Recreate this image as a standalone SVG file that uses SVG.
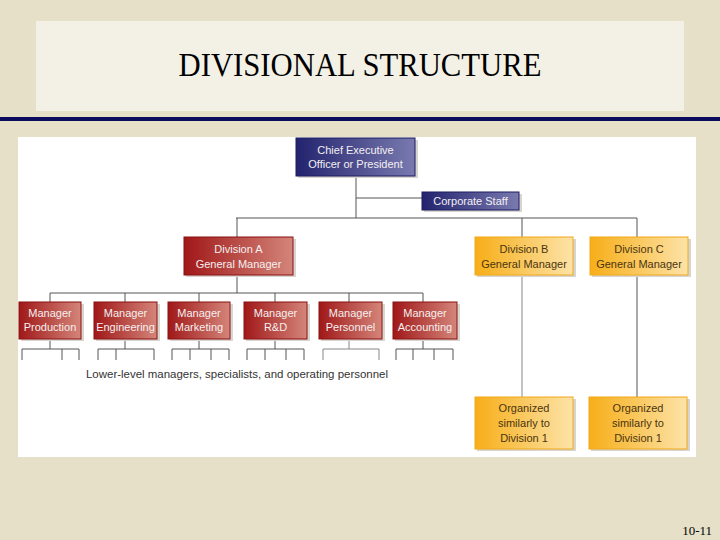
<svg xmlns="http://www.w3.org/2000/svg" width="720" height="540" viewBox="0 0 720 540">
<defs>
<linearGradient id="gBlue" x1="0" y1="0" x2="1" y2="0"><stop offset="0" stop-color="#23236e"/><stop offset="1" stop-color="#7a7ab0"/></linearGradient>
<linearGradient id="gRed" x1="0" y1="0" x2="1" y2="0"><stop offset="0" stop-color="#a01818"/><stop offset="1" stop-color="#d4857a"/></linearGradient>
<linearGradient id="gYel" x1="0" y1="0" x2="1" y2="0"><stop offset="0" stop-color="#f7ae18"/><stop offset="1" stop-color="#fde3a8"/></linearGradient>
<style>
.sh{fill:#d8d4d0}
.blue{fill:url(#gBlue);stroke:#1d1d60;stroke-width:1}
.red{fill:url(#gRed);stroke:#8a1010;stroke-width:1}
.yel{fill:url(#gYel);stroke:#f0a818;stroke-width:1}
.wt{font-family:"Liberation Sans",Arial,sans-serif;font-size:11px;fill:#f4f0f0;text-anchor:middle}
.dt{font-family:"Liberation Sans",Arial,sans-serif;font-size:11px;fill:#4a3510;text-anchor:middle}
.ln{stroke:#555555;stroke-width:1;fill:none}
.lt{stroke:#888888;stroke-width:1;fill:none}
</style>
</defs>
<rect x="0" y="0" width="720" height="540" fill="#e6e0c9"/>
<rect x="36" y="21" width="648" height="90" fill="#f3f1e6"/>
<text x="360" y="76" font-family="'Liberation Serif','Times New Roman',serif" font-size="34" text-anchor="middle" textLength="363" lengthAdjust="spacingAndGlyphs" fill="#000000">DIVISIONAL STRUCTURE</text>
<rect x="0" y="117" width="720" height="4" fill="#0c0c5c"/>
<rect x="18" y="137" width="678" height="320" fill="#ffffff"/>

<g id="connectors">
<path class="ln" d="M356 176V218M356 198H422M236 218H637M237 218V237M522 218V237M637 218V237"/>
<path class="ln" d="M237 275V293M50 293H423M50 293V302M125 293V302M199 293V302M275 293V302M349 293V302M423 293V302"/>
<path class="lt" d="M522 275V397"/>
<path class="ln" d="M637 275V397"/>
<path class="ln" d="M50 339V349M22 349H79M22 349V360M62 349V360M79 349V360"/>
<path class="ln" d="M125 339V349M98 349H154M98 349V360M116 349V360M154 349V360"/>
<path class="ln" d="M199 339V349M172 349H229M172 349V360M190 349V360M211 349V360M229 349V360"/>
<path class="ln" d="M275 339V349M247 349H304M247 349V360M265 349V360M286 349V360M304 349V360"/>
<path class="lt" d="M349 339V349M323 349H379M323 349V360M379 349V360"/>
<path class="ln" d="M423 339V349M396 349H453M396 349V360M413 349V360M434 349V360M453 349V360"/>
</g>

<g id="ceo"><rect class="sh" x="298" y="140" width="120" height="38"/><rect class="blue" x="296" y="138" width="119" height="38"/><text class="wt" x="355.5" y="154">Chief Executive</text><text class="wt" x="355.5" y="168">Officer or President</text></g>
<g id="corporate-staff"><rect class="sh" x="424" y="194" width="98" height="18"/><rect class="blue" x="422" y="192" width="97" height="18"/><text class="wt" x="470.5" y="205">Corporate Staff</text></g>

<g id="division-a"><rect class="sh" x="186" y="239" width="110" height="38"/><rect class="red" x="184" y="237" width="109" height="38"/><text class="wt" x="238.5" y="253">Division A</text><text class="wt" x="238.5" y="268">General Manager</text></g>
<g id="division-b"><rect class="sh" x="477" y="239" width="99" height="38"/><rect class="yel" x="475" y="237" width="98" height="38"/><text class="dt" x="524" y="253">Division B</text><text class="dt" x="524" y="268">General Manager</text></g>
<g id="division-c"><rect class="sh" x="592" y="239" width="99" height="38"/><rect class="yel" x="590" y="237" width="98" height="38"/><text class="dt" x="639" y="253">Division C</text><text class="dt" x="639" y="268">General Manager</text></g>

<g id="mgr-production"><rect class="sh" x="21" y="304" width="63" height="37"/><rect class="red" x="19" y="302" width="62" height="37"/><text class="wt" x="50" y="317">Manager</text><text class="wt" x="50" y="331">Production</text></g>
<g id="mgr-engineering"><rect class="sh" x="96" y="304" width="64" height="37"/><rect class="red" x="94" y="302" width="63" height="37"/><text class="wt" x="125.5" y="317">Manager</text><text class="wt" x="125.5" y="331">Engineering</text></g>
<g id="mgr-marketing"><rect class="sh" x="170" y="304" width="63" height="37"/><rect class="red" x="168" y="302" width="62" height="37"/><text class="wt" x="199" y="317">Manager</text><text class="wt" x="199" y="331">Marketing</text></g>
<g id="mgr-rd"><rect class="sh" x="246" y="304" width="64" height="37"/><rect class="red" x="244" y="302" width="63" height="37"/><text class="wt" x="275.5" y="317">Manager</text><text class="wt" x="275.5" y="331">R&amp;D</text></g>
<g id="mgr-personnel"><rect class="sh" x="321" y="304" width="64" height="37"/><rect class="red" x="319" y="302" width="63" height="37"/><text class="wt" x="350.5" y="317">Manager</text><text class="wt" x="350.5" y="331">Personnel</text></g>
<g id="mgr-accounting"><rect class="sh" x="395" y="304" width="65" height="37"/><rect class="red" x="393" y="302" width="64" height="37"/><text class="wt" x="425" y="317">Manager</text><text class="wt" x="425" y="331">Accounting</text></g>

<text x="237" y="378" font-family="'Liberation Sans',Arial,sans-serif" font-size="11" fill="#333333" text-anchor="middle" textLength="302" lengthAdjust="spacingAndGlyphs">Lower-level managers, specialists, and operating personnel</text>

<g id="org-b"><rect class="sh" x="477" y="399" width="99" height="52"/><rect class="yel" x="475" y="397" width="98" height="52"/><text class="dt" x="524" y="412">Organized</text><text class="dt" x="524" y="427">similarly to</text><text class="dt" x="524" y="442">Division 1</text></g>
<g id="org-c"><rect class="sh" x="591" y="399" width="99" height="52"/><rect class="yel" x="589" y="397" width="98" height="52"/><text class="dt" x="638" y="412">Organized</text><text class="dt" x="638" y="427">similarly to</text><text class="dt" x="638" y="442">Division 1</text></g>

<text x="712" y="535" font-family="'Liberation Serif','Times New Roman',serif" font-size="13" text-anchor="end" fill="#000000">10-11</text>
</svg>
